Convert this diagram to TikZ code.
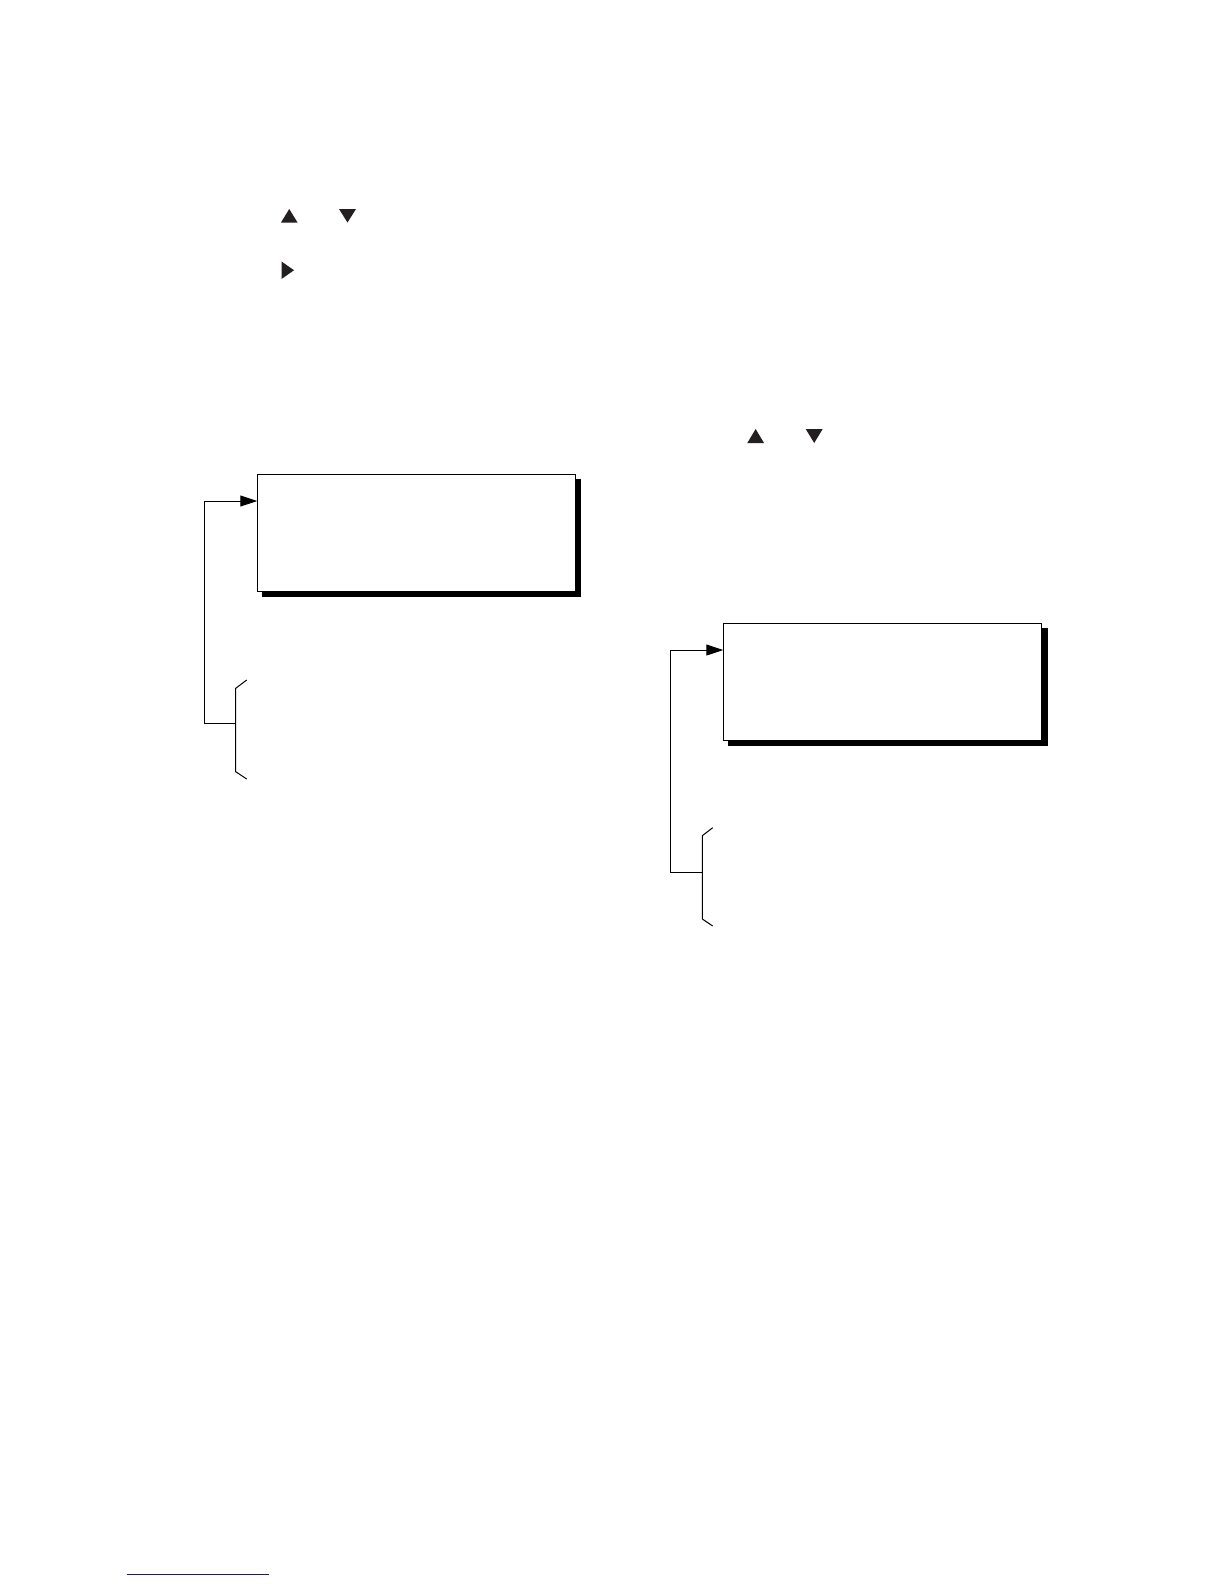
\documentclass[tikz,border=0pt]{standalone}
\usetikzlibrary{arrows.meta}
\definecolor{tri}{RGB}{35,31,32}
\definecolor{linkblue}{RGB}{20,20,160}
\begin{document}
\begin{tikzpicture}[x=0.5pt,y=-0.5pt,
  panel/.style={draw=black,fill=white,line width=0.65pt,inner sep=0pt,outer sep=0pt,
    rectangle,minimum width=159.2pt,minimum height=58.5pt},
  shadowbox/.style={fill=black},
  conn/.style={draw=black,line width=0.5pt},
  tip/.style={-{Triangle[length=8.5pt,width=5.5pt]}},
  bracestyle/.style={draw=black,line width=0.5pt},
  trifill/.style={fill=tri}]
\useasboundingbox[fill=white] (0,0) rectangle (1224,1584);

% key symbols, top left
\fill[trifill] (281,222.5) -- (297.5,222.5) -- (289.25,209) -- cycle;
\fill[trifill] (339,209) -- (356,209) -- (347.5,222.5) -- cycle;
\fill[trifill] (281.5,261.5) -- (281.5,279) -- (294,270.25) -- cycle;

% key symbols, right column
\fill[trifill] (747.3,443) -- (764,443) -- (755.65,429) -- cycle;
\fill[trifill] (805.7,429) -- (822.7,429) -- (814.2,443) -- cycle;

% box 1 with shadow
\fill[shadowbox] (262,479) rectangle (580.7,596.7);
\node[panel] (box1) at (416.5,532.8) {};

% box 2 with shadow
\fill[shadowbox] (728,628.3) rectangle (1048,745.7);
\node[panel] (box2) at (882.5,681.8) {};

% brace 1
\coordinate (b1mid) at (235.7,723.3);
\draw[bracestyle] (246.7,680) -- (235.7,688.3) -- (235.7,771.7) -- (246.7,779);
\coordinate (t1) at (204,501);
\draw[conn,tip] (b1mid) -| (t1) -- (t1 -| box1.west);

% brace 2
\coordinate (b2mid) at (702.3,872.7);
\draw[bracestyle] (712.7,827.7) -- (702.3,835.7) -- (702.3,919) -- (712.7,926);
\coordinate (t2) at (670.7,650);
\draw[conn,tip] (b2mid) -| (t2) -- (t2 -| box2.west);

% blue rule at bottom
\draw[linkblue,line width=0.6pt] (126.7,1574.7) -- (269,1574.7);
\end{tikzpicture}
\end{document}
